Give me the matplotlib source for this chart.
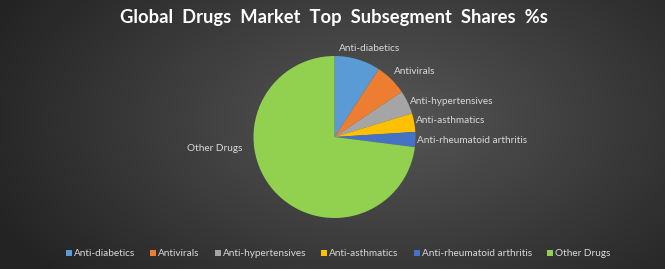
import numpy as np
import matplotlib
matplotlib.use("Agg")
import matplotlib.pyplot as plt
from matplotlib.lines import Line2D

categories = ["Anti-diabetics", "Antivirals", "Anti-hypertensives",
              "Anti-asthmatics", "Anti-rheumatoid arthritis", "Other Drugs"]
shares = [9.2, 6.4, 4.7, 3.7, 3.0, 73.0]
colors = ["#5B9BD5", "#ED7D31", "#A5A5A5", "#FFC000", "#4472C4", "#92D050"]
title = "Global  Drugs  Market  Top  Subsegment  Shares  %s"

# label layout (pie radius units): x, y, horizontal alignment
label_pos = [(0.05, 1.09, "left"), (0.73, 0.81, "left"), (0.93, 0.44, "left"),
             (1.01, 0.20, "left"), (1.02, -0.04, "left"), (-1.14, -0.14, "right")]

W, H = 665, 269
fig = plt.figure(figsize=(W / 100, H / 100), dpi=100)

# radial gradient background
bg = fig.add_axes([0, 0, 1, 1])
yy, xx = np.mgrid[0:H, 0:W]
cx, cy = 380, 120
r = np.sqrt(((xx - cx) / 420.0) ** 2 + ((yy - cy) / 240.0) ** 2)
v = np.clip(0.34 - 0.20 * r, 0.14, 0.34)
img = np.dstack([v, v, v])
bg.imshow(img, extent=[0, W, H, 0], aspect="auto", interpolation="bilinear")
bg.set_xlim(0, W)
bg.set_ylim(H, 0)
bg.axis("off")

# pie
pcx, pcy, rad = 334.5, 137, 81
ax = fig.add_axes([(pcx - rad) / W, (H - pcy - rad) / H, 2 * rad / W, 2 * rad / H])
wedges, _ = ax.pie(shares, colors=colors, startangle=90, counterclock=False,
                   radius=1.0, wedgeprops=dict(linewidth=0))
ax.set_xlim(-1, 1)
ax.set_ylim(-1, 1)
ax.set_aspect("equal")
ax.axis("off")

lab_font = dict(family=["Lato", "DejaVu Sans"], size=7.2, color="#D9D9D9")
for name, (lx, ly, ha) in zip(categories, label_pos):
    ax.text(lx, ly, name, ha=ha, va="center", clip_on=False, **lab_font)

fig.text(0.5015, 1 - 18 / H, title, ha="center", va="center", color="white",
         fontsize=13.2, fontweight="bold", family=["Lato", "DejaVu Sans"])

handles = [Line2D([0], [0], marker="s", linestyle="none", markersize=5,
                  markerfacecolor=c, markeredgewidth=0) for c in colors]
leg = fig.legend(handles, categories, loc="center", bbox_to_anchor=(0.508, 1 - 254 / H),
                 ncol=6, frameon=False, handletextpad=0.15, columnspacing=1.45,
                 handlelength=0.7, prop=dict(family=["Lato", "DejaVu Sans"], size=7.2))
for t in leg.get_texts():
    t.set_color("#D9D9D9")

fig.savefig("out.png", dpi=100)
